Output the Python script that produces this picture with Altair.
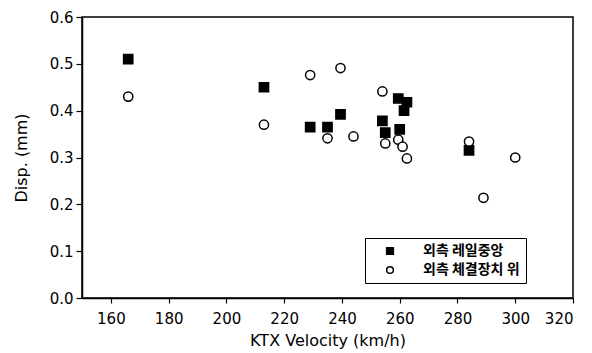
import altair as alt
import pandas as pd

# Train speed (km/h) and measured displacement (mm) for the two gauge positions
rail_center_speed = [166, 213, 229, 235, 239.5, 254, 255, 259.5, 260, 261.5, 262.5, 284]
rail_center_disp = [0.51, 0.45, 0.365, 0.365, 0.392, 0.378, 0.353, 0.426, 0.36, 0.40, 0.418, 0.315]

fastening_speed = [166, 213, 229, 235, 239.5, 244, 254, 255, 259.5, 261, 262.5, 284, 289, 300]
fastening_disp = [0.43, 0.37, 0.476, 0.341, 0.491, 0.345, 0.441, 0.33, 0.338, 0.323, 0.298, 0.334, 0.214, 0.30]

series_names = ["외측 레일중앙", "외측 체결장치 위"]
x_ticks = [160, 180, 200, 220, 240, 260, 280, 300, 320]
y_ticks = [0.0, 0.1, 0.2, 0.3, 0.4, 0.5, 0.6]

df = pd.concat([
    pd.DataFrame({"speed": rail_center_speed, "disp": rail_center_disp, "series": series_names[0]}),
    pd.DataFrame({"speed": fastening_speed, "disp": fastening_disp, "series": series_names[1]}),
])

font = "DejaVu Sans"

legend = alt.Legend(
    title=None, orient="none", legendX=283, legendY=221,
    strokeColor="black", padding=6, symbolOffset=12, symbolSize=45,
    symbolStrokeWidth=1.5, labelFontSize=14, labelFont="Noto Sans CJK KR",
    labelFontWeight="bold", labelOffset=26, rowPadding=5, fillColor="white",
    labelColor="black", labelBaseline="middle",
)

chart = alt.Chart(df).mark_point(
    stroke="black", strokeWidth=1.5, size=85, opacity=1
).encode(
    x=alt.X("speed:Q",
            scale=alt.Scale(domain=[150, 320], nice=False, zero=False),
            axis=alt.Axis(title="KTX Velocity (km/h)", values=x_ticks, format="d",
                          grid=False, tickSize=5, labelPadding=8, titlePadding=6)),
    y=alt.Y("disp:Q",
            scale=alt.Scale(domain=[0, 0.6], nice=False),
            axis=alt.Axis(title="Disp. (mm)", values=y_ticks, format=".1f",
                          grid=False, tickSize=6, labelPadding=3, titlePadding=20)),
    shape=alt.Shape("series:N",
                    scale=alt.Scale(domain=series_names, range=["square", "circle"]),
                    legend=legend),
    fill=alt.Fill("series:N",
                  scale=alt.Scale(domain=series_names, range=["black", "white"]),
                  legend=legend),
).properties(
    width=491, height=281,
    background="white",
    autosize=alt.AutoSizeParams(type="none"),
    padding={"left": 82, "top": 17, "right": 19, "bottom": 55},
).configure_view(
    stroke="black", strokeWidth=1.5
).configure_axis(
    domainColor="black", domainWidth=1.5, tickColor="black", tickWidth=1.2,
    labelColor="black", titleColor="black", labelFont=font, titleFont=font,
    labelFontSize=15, titleFontSize=16, titleFontWeight="normal"
)

chart.save("out.html", embed_options={"renderer": "svg", "actions": False})
